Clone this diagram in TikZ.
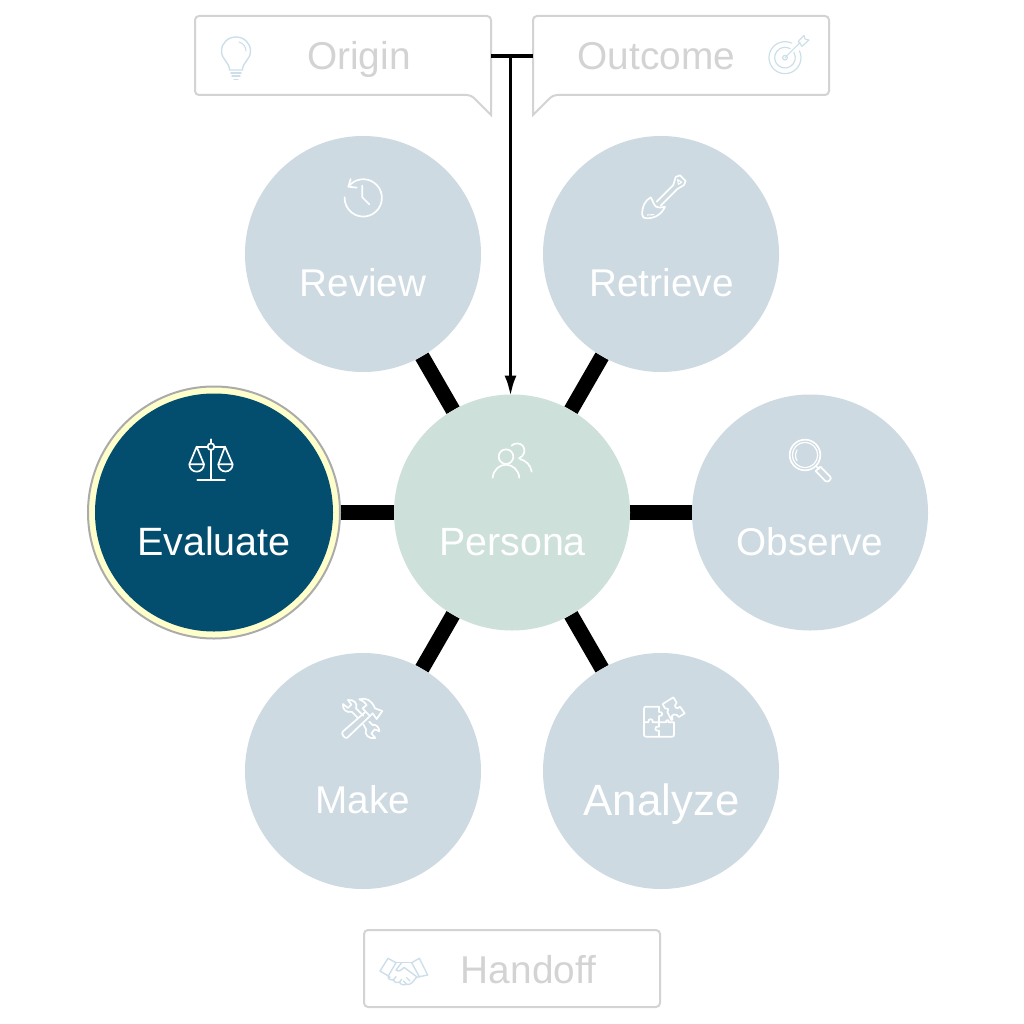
\documentclass[tikz,border=0pt]{standalone}
\usepackage{fontspec}
\setmainfont{Liberation Sans}
\usetikzlibrary{arrows.meta,backgrounds}
\definecolor{stepfill}{HTML}{CDDAE1}
\definecolor{personafill}{HTML}{CDE0DA}
\definecolor{activefill}{HTML}{034E6E}
\definecolor{ringfill}{HTML}{FFFFCC}
\definecolor{ringline}{HTML}{ABABAB}
\definecolor{boxline}{HTML}{D3D3D3}
\definecolor{iconblue}{HTML}{CCDFE9}
\tikzset{
  stepnode/.style={circle,fill=stepfill,minimum size=236pt,inner sep=0pt,outer sep=0pt},
  personanode/.style={stepnode,fill=personafill},
  activenode/.style={stepnode,fill=activefill,minimum size=238pt},
  halo/.style={circle,fill=ringfill,draw=ringline,line width=2pt,minimum size=252pt,inner sep=0pt,outer sep=0pt},
  steptext/.style={anchor=base,text=white,font=\fontsize{38.7}{40}\selectfont,inner sep=0pt},
  boxtext/.style={anchor=base,text=boxline,font=\fontsize{38.8}{40}\selectfont,inner sep=0pt},
  spoke/.style={line width=15pt,black},
  boxnode/.style={minimum width=296pt,inner sep=0pt,outer sep=0pt},
  boxoutline/.style={draw=boxline,line width=2pt,rounded corners=4pt},
  link/.style={line width=3.6pt,black},
  iconw/.style={draw=white,line width=1.7pt,line cap=round,line join=round},
  iconb/.style={draw=iconblue,line width=1.4pt,line cap=round,line join=round},
  zoomed/.style={x=0.3333pt,y=-0.3333pt},
}
\begin{document}
\begin{tikzpicture}[x=1pt,y=-1pt]
\useasboundingbox (0,0) rectangle (1024,1024);

% --- hub and step circles ---
\node[personanode] (persona) at (512,512.5) {};
\node[stepnode] (review)   at (363,254) {};
\node[stepnode] (retrieve) at (661,254) {};
\node[stepnode] (observe)  at (810,512.5) {};
\node[stepnode] (analyze)  at (661,771) {};
\node[stepnode] (make)     at (363,771) {};
\node[halo] (halo) at (214,512.5) {};
\node[activenode] (evaluate) at (214,512.5) {};

% --- spokes ---
\begin{pgfonlayer}{background}
\draw[spoke] (persona) -- (review);
\draw[spoke] (persona) -- (retrieve);
\draw[spoke] (persona) -- (observe);
\draw[spoke] (persona) -- (analyze);
\draw[spoke] (persona) -- (make);
\draw[spoke] (persona) -- (halo);
\end{pgfonlayer}

% --- circle labels ---
\node[steptext,font=\fontsize{39.4}{41}\selectfont] (tpersona) at (512.5,555) {Persona};
\node[steptext] (treview) at (363,296) {Review};
\node[steptext] (tretrieve) at (661.5,296) {Retrieve};
\node[steptext] (tobserve) at (810,555) {Observe};
\node[steptext,font=\fontsize{43.8}{45}\selectfont] (tanalyze) at (661.5,815) {Analyze};
\node[steptext] (tmake) at (363,813) {Make};
\node[steptext,font=\fontsize{39.5}{41}\selectfont] (tevaluate) at (214,555) {Evaluate};

% --- callout boxes ---
\node[boxnode,minimum height=79pt] (origin) at (343,55.5) {};
\node[boxnode,minimum height=79pt] (outcome) at (681,55.5) {};
\node[boxnode,minimum height=77pt] (handoff) at (512,968.5) {};
\draw[boxoutline] ([yshift=10pt]origin.south west) -- (origin.south west) -- ([xshift=-20pt]origin.south east)
   [sharp corners] -- ([yshift=-20pt]origin.south east) [rounded corners=4pt] -- (origin.north east)
   -- (origin.north west) -- ([yshift=10pt]origin.south west);
\draw[boxoutline] ([yshift=10pt]outcome.south east) -- (outcome.south east) -- ([xshift=20pt]outcome.south west)
   [sharp corners] -- ([yshift=-20pt]outcome.south west) [rounded corners=4pt] -- (outcome.north west)
   -- (outcome.north east) -- ([yshift=10pt]outcome.south east);
\draw[boxoutline] (handoff.north west) rectangle (handoff.south east);
\node[boxtext] (torigin) at (359,70) {Origin};
\node[boxtext] (toutcome) at (656.5,70) {Outcome};
\node[boxtext] (thandoff) at (528.5,983) {Handoff};

% --- black connector ---
\draw[line width=4pt,black] ([yshift=-1pt]origin.east) -- ([yshift=-1pt]outcome.west);
\coordinate (junction) at (510.5,56.5);
\draw[link,shorten >=-2pt,-{Latex[length=21pt,width=12pt]}] (junction) -- (junction |- persona.north);

% --- icons ---
% clock
\begin{scope}[shift={(330,165)},zoomed]
\draw[iconw] (55,65) arc[start angle=217,end angle=542,radius=56];
\draw[iconw] (62,42) -- (55,65) -- (80,68);
\draw[iconw] (97,62) -- (97,97) -- (118,118);
\end{scope}
% shovel
\begin{scope}[shift={(630,165)},zoomed]
\draw[iconw] (62,97) .. controls (45,107) and (35,125) .. (37,150) .. controls (37,157) and (42,160) .. (50,160)
  .. controls (75,160) and (95,148) .. (105,125) .. controls (95,128) and (85,130) .. (78,125)
  .. controls (70,118) and (68,105) .. (62,97);
\draw[iconw] (80,110) -- (130,60) (92,122) -- (142,72);
\draw[iconw] (130,60) -- (137,36) -- (150,31) -- (167,48) -- (162,60) -- (142,72);
\draw[iconw,line width=1.1pt] (143,44) -- (155,52) -- (145,58) -- cycle;
\draw[iconw,line width=1.1pt] (52,150) -- (72,149);
\end{scope}
% scales
\begin{scope}[shift={(180,430)},zoomed]
\draw[iconw] (93,28) -- (93,40) (93,60) -- (93,150) (52,150) -- (135,150);
\draw[iconw] (50,50) -- (83,50) (103,50) -- (135,50);
\draw[iconw] (93,50) circle[radius=10];
\draw[iconw] (28,103) -- (50,50) -- (72,103);
\draw[iconw] (28,103) -- (72,103) arc[start angle=0,end angle=180,radius=22] -- cycle;
\draw[iconw] (115,103) -- (135,50) -- (158,103);
\draw[iconw] (115,103) -- (158,103) arc[start angle=0,end angle=180,radius=21.5] -- cycle;
\end{scope}
% people
\begin{scope}[shift={(480,430)},zoomed]
\draw[iconw] (78,80) circle[radius=22];
\draw[iconw] (38,143) .. controls (40,120) and (58,104) .. (78,104) .. controls (98,104) and (116,120) .. (118,143);
\draw[iconw] (95,47) .. controls (103,38) and (120,38) .. (128,47) .. controls (138,58) and (134,78) .. (117,85);
\draw[iconw] (120,87) .. controls (138,92) and (152,105) .. (155,125);
\end{scope}
% magnifier
\begin{scope}[shift={(775,430)},zoomed]
\draw[iconw] (90,75) circle[radius=46];
\draw[iconw,line width=1.2pt] (90,75) circle[radius=38];
\draw[iconw,line width=1.2pt] (66,60) .. controls (60,72) and (60,82) .. (66,92);
\draw[iconw] (122,107) -- (132,117);
\draw[iconw] (122,123) -- (136,110) -- (166,140) .. controls (172,147) and (158,160) .. (151,153) -- cycle;
\end{scope}
% tools
\begin{scope}[shift={(330,690)},zoomed]
% wrench
\draw[iconw] (54,30) -- (64,44) -- (54,54) -- (39,42) .. controls (36,58) and (50,70) .. (65,65) -- (85,85);
\draw[iconw] (54,30) .. controls (72,28) and (84,40) .. (78,55) -- (100,77);
\draw[iconw] (118,95) -- (128,105) .. controls (138,102) and (148,112) .. (148,124) -- (134,118) -- (124,130) -- (136,144)
  .. controls (118,148) and (102,135) .. (108,118) -- (100,103);
% hammer
\draw[iconw] (38,125) -- (107,65) -- (120,78) -- (52,143) .. controls (46,148) and (32,133) .. (38,125);
\draw[iconw] (107,65) -- (98,55) -- (110,45) .. controls (105,36) and (98,32) .. (88,28) .. controls (108,22) and (125,30) .. (135,55)
  -- (157,63) -- (140,87) -- (128,70) -- (120,78);
\end{scope}
% puzzle
\begin{scope}[shift={(630,690)},zoomed]
\draw[iconw] (87,50) -- (48,50) .. controls (44,50) and (42,52) .. (42,56) -- (42,134) .. controls (42,138) and (44,140) .. (48,140) -- (126,140)
  .. controls (130,140) and (132,138) .. (132,134) -- (132,97) -- (115,97) .. controls (122,88) and (105,88) .. (108,97) -- (87,97);
\draw[iconw] (87,50) -- (87,66) .. controls (100,64) and (100,80) .. (87,78) -- (87,97);
\draw[iconw] (42,97) -- (55,97) .. controls (52,84) and (72,84) .. (68,97) -- (87,97);
\draw[iconw] (87,97) -- (87,110) .. controls (72,106) and (72,126) .. (87,122) -- (87,140);
\draw[iconw] (98,42) -- (130,22) -- (140,38) .. controls (128,48) and (140,62) .. (150,50) -- (164,70) -- (147,81)
  .. controls (140,68) and (118,72) .. (128,88) -- (124,90) -- (112,66) .. controls (118,58) and (112,52) .. (105,55) -- cycle;
\end{scope}
% bulb
\draw[iconb] (229.5,70) .. controls (229.5,62) and (221.5,60) .. (221.5,51) .. controls (221.5,43) and (228,37) .. (236,37)
  .. controls (244,37) and (250.5,43) .. (250.5,51) .. controls (250.5,60) and (242.5,62) .. (242.5,70) -- cycle;
\draw[iconb,line width=1.1pt] (239,42) .. controls (243,43) and (246,47) .. (246,51);
\draw[iconb] (231,73) -- (241,73) (232,76) -- (240,76) (234,79.5) -- (238,79.5);
% target
\begin{scope}[shift={(490,0)},zoomed]
\draw[iconb,line width=1.2pt] (885,173) ++(-25:48) arc[start angle=-25,end angle=295,radius=48];
\draw[iconb,line width=1.2pt] (885,173) ++(-30:31) arc[start angle=-30,end angle=300,radius=31];
\draw[iconb,line width=1.2pt] (885,173) circle[radius=7];
\draw[iconb,line width=1.2pt] (885,173) -- (930,128);
\draw[iconb,line width=1.2pt] (925,124) -- (942,106) -- (945,117) -- (957,120) -- (936,139) -- cycle;
\end{scope}
% handshake
\begin{scope}[shift={(360,925)},zoomed]
\draw[iconb] (60,138) -- (84,100) -- (108,113) -- (85,153) -- cycle;
\draw[iconb] (178,100) -- (203,150) -- (178,155) -- (155,113) -- cycle;
\draw[iconb] (108,113) -- (125,113) -- (155,113);
\draw[iconb] (125,113) -- (108,135) .. controls (115,142) and (125,135) .. (132,127) -- (170,155);
\draw[iconb] (85,153) -- (90,157) (178,155) -- (168,158);
\draw[iconb] (85,153) .. controls (82,165) and (95,165) .. (100,165) .. controls (105,175) and (115,172) .. (118,172)
  .. controls (125,182) and (135,180) .. (140,178) .. controls (150,182) and (160,170) .. (168,158);
\draw[iconb] (100,165) -- (108,155) (118,172) -- (125,163) (140,178) -- (130,168) (150,168) -- (140,158);
\end{scope}
\end{tikzpicture}
\end{document}
